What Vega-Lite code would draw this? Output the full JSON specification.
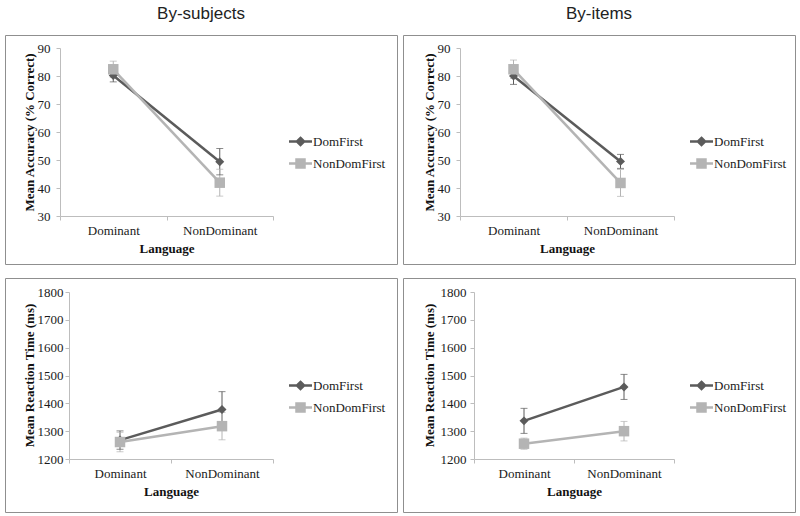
{
  "$schema": "https://vega.github.io/schema/vega-lite/v6.json",
  "background": "white",
  "padding": {"left": 4, "top": 4, "right": 2, "bottom": 2},
  "datasets": {
    "d": [
      {"panel": "TL", "group": "DomFirst", "lang": "Dominant", "mean": 80.2, "lo": 77.9, "hi": 82.5},
      {"panel": "TL", "group": "DomFirst", "lang": "NonDominant", "mean": 49.4, "lo": 44.7, "hi": 54.1},
      {"panel": "TL", "group": "NonDomFirst", "lang": "Dominant", "mean": 82.4, "lo": 79.5, "hi": 85.3},
      {"panel": "TL", "group": "NonDomFirst", "lang": "NonDominant", "mean": 41.9, "lo": 37.1, "hi": 46.7},
      {"panel": "TR", "group": "DomFirst", "lang": "Dominant", "mean": 80.0, "lo": 77.0, "hi": 83.0},
      {"panel": "TR", "group": "DomFirst", "lang": "NonDominant", "mean": 49.5, "lo": 47.0, "hi": 52.0},
      {"panel": "TR", "group": "NonDomFirst", "lang": "Dominant", "mean": 82.4, "lo": 79.1, "hi": 85.7},
      {"panel": "TR", "group": "NonDomFirst", "lang": "NonDominant", "mean": 41.8, "lo": 37.0, "hi": 46.6},
      {"panel": "BL", "group": "DomFirst", "lang": "Dominant", "mean": 1268, "lo": 1235, "hi": 1301},
      {"panel": "BL", "group": "DomFirst", "lang": "NonDominant", "mean": 1378, "lo": 1314, "hi": 1442},
      {"panel": "BL", "group": "NonDomFirst", "lang": "Dominant", "mean": 1261, "lo": 1226, "hi": 1296},
      {"panel": "BL", "group": "NonDomFirst", "lang": "NonDominant", "mean": 1318, "lo": 1269, "hi": 1367},
      {"panel": "BR", "group": "DomFirst", "lang": "Dominant", "mean": 1337, "lo": 1292, "hi": 1382},
      {"panel": "BR", "group": "DomFirst", "lang": "NonDominant", "mean": 1459, "lo": 1414, "hi": 1504},
      {"panel": "BR", "group": "NonDomFirst", "lang": "Dominant", "mean": 1255, "lo": 1235, "hi": 1275},
      {"panel": "BR", "group": "NonDomFirst", "lang": "NonDominant", "mean": 1300, "lo": 1265, "hi": 1335}
    ]
  },
  "resolve": {"scale": {"color": "independent"}, "legend": {"color": "independent"}},
  "spacing": 12,
  "vconcat": [
    {
      "spacing": 4,
      "resolve": {"scale": {"color": "independent"}, "legend": {"color": "independent"}},
      "hconcat": [
        {
          "title": {"text": "By-subjects"},
          "width": 392, "height": 229,
          "data": {"name": "d"},
          "transform": [{"filter": "datum.panel === 'TL'"}],
          "encoding": {
            "x": {"field": "lang", "type": "nominal", "sort": ["Dominant", "NonDominant"], "title": "Language",
                  "scale": {"type": "band", "range": [55, 268], "paddingInner": 0, "paddingOuter": 0},
                  "axis": {"offset": -48}},
            "color": {"field": "group", "type": "nominal",
                      "scale": {"domain": ["DomFirst", "NonDomFirst"], "range": ["#5b5b5b", "#b4b4b4"]},
                      "legend": {"title": null, "orient": "none", "legendX": 284, "legendY": 95, "labelFont": "Liberation Serif", "labelFontSize": 13,
                        "encode": {"labels": {"update": {"font": {"value": "Liberation Serif"}, "fontSize": {"value": 13}, "fill": {"value": "#1a1a1a"}}},
                          "symbols": {"update": {
                          "shape": {"signal": "datum.value === 'DomFirst' ? 'M-1.15,0L1.15,0M0,-0.36L0.36,0L0,0.36L-0.36,0Z' : 'M-1.15,0L1.15,0M-0.4,-0.4L0.4,-0.4L0.4,0.4L-0.4,0.4Z'"},
                          "stroke": {"signal": "datum.value === 'DomFirst' ? '#5b5b5b' : '#b4b4b4'"},
                          "fill": {"signal": "datum.value === 'DomFirst' ? '#5b5b5b' : '#b4b4b4'"},
                          "strokeWidth": {"value": 2.5}, "opacity": {"value": 1}, "size": {"value": 400}}}}}}
          },
          "layer": [
            {"mark": {"type": "rule", "strokeWidth": 1},
             "encoding": {"y": {"field": "lo", "type": "quantitative", "title": "Mean Accuracy (% Correct)",
                                "scale": {"domain": [30, 90], "range": [181, 13], "nice": false, "zero": false},
                                "axis": {"values": [30, 40, 50, 60, 70, 80, 90], "offset": -55, "titleX": -31, "titleY": 97, "labelPadding": 6}},
                          "y2": {"field": "hi"}}},
            {"mark": {"type": "tick", "size": 7, "thickness": 1}, "encoding": {"y": {"field": "lo", "type": "quantitative", "title": "Mean Accuracy (% Correct)", "axis": {"values": [30, 40, 50, 60, 70, 80, 90], "offset": -55, "titleX": -31, "titleY": 97, "labelPadding": 6}}}},
            {"mark": {"type": "tick", "size": 7, "thickness": 1}, "encoding": {"y": {"field": "hi", "type": "quantitative", "title": "Mean Accuracy (% Correct)", "axis": {"values": [30, 40, 50, 60, 70, 80, 90], "offset": -55, "titleX": -31, "titleY": 97, "labelPadding": 6}}}},
            {"mark": {"type": "line", "strokeWidth": 2.5}, "encoding": {"y": {"field": "mean", "type": "quantitative", "title": "Mean Accuracy (% Correct)", "axis": {"values": [30, 40, 50, 60, 70, 80, 90], "offset": -55, "titleX": -31, "titleY": 97, "labelPadding": 6}}}},
            {"transform": [{"filter": "datum.group === 'DomFirst'"}], "mark": {"type": "point", "shape": "diamond", "filled": true, "opacity": 1, "size": 80},
             "encoding": {"y": {"field": "mean", "type": "quantitative", "title": "Mean Accuracy (% Correct)", "axis": {"values": [30, 40, 50, 60, 70, 80, 90], "offset": -55, "titleX": -31, "titleY": 97, "labelPadding": 6}}}},
            {"transform": [{"filter": "datum.group === 'NonDomFirst'"}], "mark": {"type": "point", "shape": "square", "filled": true, "opacity": 1, "size": 110},
             "encoding": {"y": {"field": "mean", "type": "quantitative", "title": "Mean Accuracy (% Correct)", "axis": {"values": [30, 40, 50, 60, 70, 80, 90], "offset": -55, "titleX": -31, "titleY": 97, "labelPadding": 6}}}}
          ]
        },
        {
          "title": {"text": "By-items"},
          "width": 392, "height": 229,
          "data": {"name": "d"},
          "transform": [{"filter": "datum.panel === 'TR'"}],
          "encoding": {
            "x": {"field": "lang", "type": "nominal", "sort": ["Dominant", "NonDominant"], "title": "Language",
                  "scale": {"type": "band", "range": [57, 271], "paddingInner": 0, "paddingOuter": 0},
                  "axis": {"offset": -48}},
            "color": {"field": "group", "type": "nominal",
                      "scale": {"domain": ["DomFirst", "NonDomFirst"], "range": ["#5b5b5b", "#b4b4b4"]},
                      "legend": {"title": null, "orient": "none", "legendX": 287, "legendY": 95, "labelFont": "Liberation Serif", "labelFontSize": 13,
                        "encode": {"labels": {"update": {"font": {"value": "Liberation Serif"}, "fontSize": {"value": 13}, "fill": {"value": "#1a1a1a"}}},
                          "symbols": {"update": {
                          "shape": {"signal": "datum.value === 'DomFirst' ? 'M-1.15,0L1.15,0M0,-0.36L0.36,0L0,0.36L-0.36,0Z' : 'M-1.15,0L1.15,0M-0.4,-0.4L0.4,-0.4L0.4,0.4L-0.4,0.4Z'"},
                          "stroke": {"signal": "datum.value === 'DomFirst' ? '#5b5b5b' : '#b4b4b4'"},
                          "fill": {"signal": "datum.value === 'DomFirst' ? '#5b5b5b' : '#b4b4b4'"},
                          "strokeWidth": {"value": 2.5}, "opacity": {"value": 1}, "size": {"value": 400}}}}}}
          },
          "layer": [
            {"mark": {"type": "rule", "strokeWidth": 1},
             "encoding": {"y": {"field": "lo", "type": "quantitative", "title": "Mean Accuracy (% Correct)",
                                "scale": {"domain": [30, 90], "range": [181, 13], "nice": false, "zero": false},
                                "axis": {"values": [30, 40, 50, 60, 70, 80, 90], "offset": -57, "titleX": -31, "titleY": 97, "labelPadding": 6}},
                          "y2": {"field": "hi"}}},
            {"mark": {"type": "tick", "size": 7, "thickness": 1}, "encoding": {"y": {"field": "lo", "type": "quantitative", "title": "Mean Accuracy (% Correct)", "axis": {"values": [30, 40, 50, 60, 70, 80, 90], "offset": -57, "titleX": -31, "titleY": 97, "labelPadding": 6}}}},
            {"mark": {"type": "tick", "size": 7, "thickness": 1}, "encoding": {"y": {"field": "hi", "type": "quantitative", "title": "Mean Accuracy (% Correct)", "axis": {"values": [30, 40, 50, 60, 70, 80, 90], "offset": -57, "titleX": -31, "titleY": 97, "labelPadding": 6}}}},
            {"mark": {"type": "line", "strokeWidth": 2.5}, "encoding": {"y": {"field": "mean", "type": "quantitative", "title": "Mean Accuracy (% Correct)", "axis": {"values": [30, 40, 50, 60, 70, 80, 90], "offset": -57, "titleX": -31, "titleY": 97, "labelPadding": 6}}}},
            {"transform": [{"filter": "datum.group === 'DomFirst'"}], "mark": {"type": "point", "shape": "diamond", "filled": true, "opacity": 1, "size": 80},
             "encoding": {"y": {"field": "mean", "type": "quantitative", "title": "Mean Accuracy (% Correct)", "axis": {"values": [30, 40, 50, 60, 70, 80, 90], "offset": -57, "titleX": -31, "titleY": 97, "labelPadding": 6}}}},
            {"transform": [{"filter": "datum.group === 'NonDomFirst'"}], "mark": {"type": "point", "shape": "square", "filled": true, "opacity": 1, "size": 110},
             "encoding": {"y": {"field": "mean", "type": "quantitative", "title": "Mean Accuracy (% Correct)", "axis": {"values": [30, 40, 50, 60, 70, 80, 90], "offset": -57, "titleX": -31, "titleY": 97, "labelPadding": 6}}}}
          ]
        }
      ]
    },
    {
      "spacing": 4,
      "resolve": {"scale": {"color": "independent"}, "legend": {"color": "independent"}},
      "hconcat": [
        {
          "width": 392, "height": 234,
          "data": {"name": "d"},
          "transform": [{"filter": "datum.panel === 'BL'"}],
          "encoding": {
            "x": {"field": "lang", "type": "nominal", "sort": ["Dominant", "NonDominant"], "title": "Language",
                  "scale": {"type": "band", "range": [64, 268], "paddingInner": 0, "paddingOuter": 0},
                  "axis": {"offset": -53}},
            "color": {"field": "group", "type": "nominal",
                      "scale": {"domain": ["DomFirst", "NonDomFirst"], "range": ["#5b5b5b", "#b4b4b4"]},
                      "legend": {"title": null, "orient": "none", "legendX": 284, "legendY": 96, "labelFont": "Liberation Serif", "labelFontSize": 13,
                        "encode": {"labels": {"update": {"font": {"value": "Liberation Serif"}, "fontSize": {"value": 13}, "fill": {"value": "#1a1a1a"}}},
                          "symbols": {"update": {
                          "shape": {"signal": "datum.value === 'DomFirst' ? 'M-1.15,0L1.15,0M0,-0.36L0.36,0L0,0.36L-0.36,0Z' : 'M-1.15,0L1.15,0M-0.4,-0.4L0.4,-0.4L0.4,0.4L-0.4,0.4Z'"},
                          "stroke": {"signal": "datum.value === 'DomFirst' ? '#5b5b5b' : '#b4b4b4'"},
                          "fill": {"signal": "datum.value === 'DomFirst' ? '#5b5b5b' : '#b4b4b4'"},
                          "strokeWidth": {"value": 2.5}, "opacity": {"value": 1}, "size": {"value": 400}}}}}}
          },
          "layer": [
            {"mark": {"type": "rule", "strokeWidth": 1},
             "encoding": {"y": {"field": "lo", "type": "quantitative", "title": "Mean Reaction Time (ms)",
                                "scale": {"domain": [1200, 1800], "range": [181, 14], "nice": false, "zero": false},
                                "axis": {"values": [1200, 1300, 1400, 1500, 1600, 1700, 1800], "offset": -64, "titleX": -40, "titleY": 97, "labelPadding": 2}},
                          "y2": {"field": "hi"}}},
            {"mark": {"type": "tick", "size": 7, "thickness": 1}, "encoding": {"y": {"field": "lo", "type": "quantitative", "title": "Mean Reaction Time (ms)", "axis": {"values": [1200, 1300, 1400, 1500, 1600, 1700, 1800], "offset": -64, "titleX": -40, "titleY": 97, "labelPadding": 2}}}},
            {"mark": {"type": "tick", "size": 7, "thickness": 1}, "encoding": {"y": {"field": "hi", "type": "quantitative", "title": "Mean Reaction Time (ms)", "axis": {"values": [1200, 1300, 1400, 1500, 1600, 1700, 1800], "offset": -64, "titleX": -40, "titleY": 97, "labelPadding": 2}}}},
            {"mark": {"type": "line", "strokeWidth": 2.5}, "encoding": {"y": {"field": "mean", "type": "quantitative", "title": "Mean Reaction Time (ms)", "axis": {"values": [1200, 1300, 1400, 1500, 1600, 1700, 1800], "offset": -64, "titleX": -40, "titleY": 97, "labelPadding": 2}}}},
            {"transform": [{"filter": "datum.group === 'DomFirst'"}], "mark": {"type": "point", "shape": "diamond", "filled": true, "opacity": 1, "size": 80},
             "encoding": {"y": {"field": "mean", "type": "quantitative", "title": "Mean Reaction Time (ms)", "axis": {"values": [1200, 1300, 1400, 1500, 1600, 1700, 1800], "offset": -64, "titleX": -40, "titleY": 97, "labelPadding": 2}}}},
            {"transform": [{"filter": "datum.group === 'NonDomFirst'"}], "mark": {"type": "point", "shape": "square", "filled": true, "opacity": 1, "size": 110},
             "encoding": {"y": {"field": "mean", "type": "quantitative", "title": "Mean Reaction Time (ms)", "axis": {"values": [1200, 1300, 1400, 1500, 1600, 1700, 1800], "offset": -64, "titleX": -40, "titleY": 97, "labelPadding": 2}}}}
          ]
        },
        {
          "width": 392, "height": 234,
          "data": {"name": "d"},
          "transform": [{"filter": "datum.panel === 'BR'"}],
          "encoding": {
            "x": {"field": "lang", "type": "nominal", "sort": ["Dominant", "NonDominant"], "title": "Language",
                  "scale": {"type": "band", "range": [71, 271], "paddingInner": 0, "paddingOuter": 0},
                  "axis": {"offset": -53}},
            "color": {"field": "group", "type": "nominal",
                      "scale": {"domain": ["DomFirst", "NonDomFirst"], "range": ["#5b5b5b", "#b4b4b4"]},
                      "legend": {"title": null, "orient": "none", "legendX": 287, "legendY": 96, "labelFont": "Liberation Serif", "labelFontSize": 13,
                        "encode": {"labels": {"update": {"font": {"value": "Liberation Serif"}, "fontSize": {"value": 13}, "fill": {"value": "#1a1a1a"}}},
                          "symbols": {"update": {
                          "shape": {"signal": "datum.value === 'DomFirst' ? 'M-1.15,0L1.15,0M0,-0.36L0.36,0L0,0.36L-0.36,0Z' : 'M-1.15,0L1.15,0M-0.4,-0.4L0.4,-0.4L0.4,0.4L-0.4,0.4Z'"},
                          "stroke": {"signal": "datum.value === 'DomFirst' ? '#5b5b5b' : '#b4b4b4'"},
                          "fill": {"signal": "datum.value === 'DomFirst' ? '#5b5b5b' : '#b4b4b4'"},
                          "strokeWidth": {"value": 2.5}, "opacity": {"value": 1}, "size": {"value": 400}}}}}}
          },
          "layer": [
            {"mark": {"type": "rule", "strokeWidth": 1},
             "encoding": {"y": {"field": "lo", "type": "quantitative", "title": "Mean Reaction Time (ms)",
                                "scale": {"domain": [1200, 1800], "range": [181, 14], "nice": false, "zero": false},
                                "axis": {"values": [1200, 1300, 1400, 1500, 1600, 1700, 1800], "offset": -71, "titleX": -45, "titleY": 97, "labelPadding": 4}},
                          "y2": {"field": "hi"}}},
            {"mark": {"type": "tick", "size": 7, "thickness": 1}, "encoding": {"y": {"field": "lo", "type": "quantitative", "title": "Mean Reaction Time (ms)", "axis": {"values": [1200, 1300, 1400, 1500, 1600, 1700, 1800], "offset": -71, "titleX": -45, "titleY": 97, "labelPadding": 4}}}},
            {"mark": {"type": "tick", "size": 7, "thickness": 1}, "encoding": {"y": {"field": "hi", "type": "quantitative", "title": "Mean Reaction Time (ms)", "axis": {"values": [1200, 1300, 1400, 1500, 1600, 1700, 1800], "offset": -71, "titleX": -45, "titleY": 97, "labelPadding": 4}}}},
            {"mark": {"type": "line", "strokeWidth": 2.5}, "encoding": {"y": {"field": "mean", "type": "quantitative", "title": "Mean Reaction Time (ms)", "axis": {"values": [1200, 1300, 1400, 1500, 1600, 1700, 1800], "offset": -71, "titleX": -45, "titleY": 97, "labelPadding": 4}}}},
            {"transform": [{"filter": "datum.group === 'DomFirst'"}], "mark": {"type": "point", "shape": "diamond", "filled": true, "opacity": 1, "size": 80},
             "encoding": {"y": {"field": "mean", "type": "quantitative", "title": "Mean Reaction Time (ms)", "axis": {"values": [1200, 1300, 1400, 1500, 1600, 1700, 1800], "offset": -71, "titleX": -45, "titleY": 97, "labelPadding": 4}}}},
            {"transform": [{"filter": "datum.group === 'NonDomFirst'"}], "mark": {"type": "point", "shape": "square", "filled": true, "opacity": 1, "size": 110},
             "encoding": {"y": {"field": "mean", "type": "quantitative", "title": "Mean Reaction Time (ms)", "axis": {"values": [1200, 1300, 1400, 1500, 1600, 1700, 1800], "offset": -71, "titleX": -45, "titleY": 97, "labelPadding": 4}}}}
          ]
        }
      ]
    }
  ],
  "config": {
    "view": {"stroke": "#8f8f8f", "strokeWidth": 1},
    "title": {"font": "Liberation Sans", "fontSize": 17, "fontWeight": "normal", "color": "#222222", "anchor": "middle", "offset": 12},
    "axis": {
      "grid": false,
      "labelFont": "Liberation Serif", "labelFontSize": 13, "labelColor": "#1a1a1a",
      "titleFont": "Liberation Serif", "titleFontSize": 13, "titleFontWeight": "bold", "titleColor": "#111111",
      "domainColor": "#bdbdbd", "tickColor": "#bdbdbd", "tickSize": 4
    },
    "axisX": {"labelAngle": 0, "tickBand": "extent", "labelPadding": 4, "titlePadding": 5},
    "axisY": {"titleBaseline": "middle", "titleAlign": "center", "titleAngle": -90, "format": "d", "labelOverlap": false, "labelFlush": false},
    "legend": {"labelFont": "Liberation Serif", "labelFontSize": 13, "labelColor": "#1a1a1a", "symbolSize": 400, "rowPadding": 1, "labelOffset": 1, "padding": 0}
  }
}
